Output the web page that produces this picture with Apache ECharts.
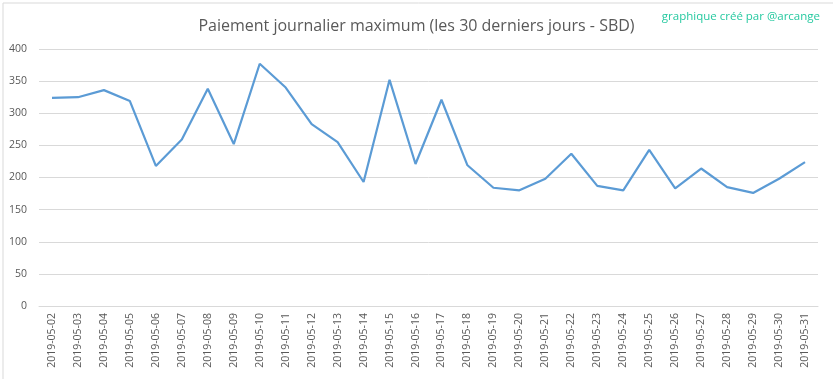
<!DOCTYPE html>
<html>
<head>
<meta charset="utf-8">
<script src="https://cdn.jsdelivr.net/npm/echarts@6/dist/echarts.min.js"></script>
<style>html,body{margin:0;padding:0;background:#fff}#c{width:833px;height:379px}</style>
</head>
<body>
<div id="c"></div>
<script>
const titleText = 'Paiement journalier maximum (les 30 derniers jours - SBD)';
const creditText = 'graphique créé par @arcange';
const dates = ['2019-05-02','2019-05-03','2019-05-04','2019-05-05','2019-05-06','2019-05-07','2019-05-08','2019-05-09','2019-05-10','2019-05-11','2019-05-12','2019-05-13','2019-05-14','2019-05-15','2019-05-16','2019-05-17','2019-05-18','2019-05-19','2019-05-20','2019-05-21','2019-05-22','2019-05-23','2019-05-24','2019-05-25','2019-05-26','2019-05-27','2019-05-28','2019-05-29','2019-05-30','2019-05-31'];
const payouts = [324, 325, 336, 319, 218, 259, 338, 252, 377, 340, 283, 255, 193, 352, 221, 321, 219, 184, 180, 198, 237, 187, 180, 243, 183, 214, 185, 176, 198, 224];
const yMin = 0, yMax = 400, yStep = 50;

const chart = echarts.init(document.getElementById('c'), null, {renderer: 'canvas'});
chart.setOption({
  animation: false,
  backgroundColor: '#fff',
  textStyle: {fontFamily: 'Open Sans'},
  graphic: [{
    type: 'rect', left: 0.5, top: 0.5, silent: true,
    shape: {x: 0.5, y: 0.5, width: 831, height: 377},
    style: {fill: 'none', stroke: '#d9d9d9', lineWidth: 1}
  }],
  title: [{
    text: titleText, left: 'center', top: 13,
    textStyle: {fontSize: 16, fontWeight: 'normal', color: '#595959', fontFamily: 'Open Sans'}
  }, {
    text: creditText, right: 8, top: 6,
    textStyle: {fontSize: 11.5, fontWeight: 'normal', color: '#26c9a0', fontFamily: 'Open Sans'}
  }],
  grid: {left: 39, right: 15, top: 49, bottom: 73, containLabel: false},
  xAxis: {
    type: 'category', data: dates, boundaryGap: true,
    axisLine: {show: true, lineStyle: {color: '#d9d9d9'}},
    axisTick: {show: false},
    axisLabel: {rotate: 90, interval: 0, color: '#595959', fontSize: 10.5, margin: 7, fontFamily: 'Open Sans'}
  },
  yAxis: {
    type: 'value', min: yMin, max: yMax, interval: yStep,
    axisLine: {show: false}, axisTick: {show: false},
    axisLabel: {color: '#595959', fontSize: 10.5, margin: 12, fontFamily: 'Open Sans'},
    splitLine: {lineStyle: {color: '#d9d9d9', width: 1}}
  },
  series: [{
    type: 'line', data: payouts, symbol: 'none',
    lineStyle: {color: '#5b9bd5', width: 2.2},
    itemStyle: {color: '#5b9bd5'}
  }]
});
</script>
</body>
</html>
